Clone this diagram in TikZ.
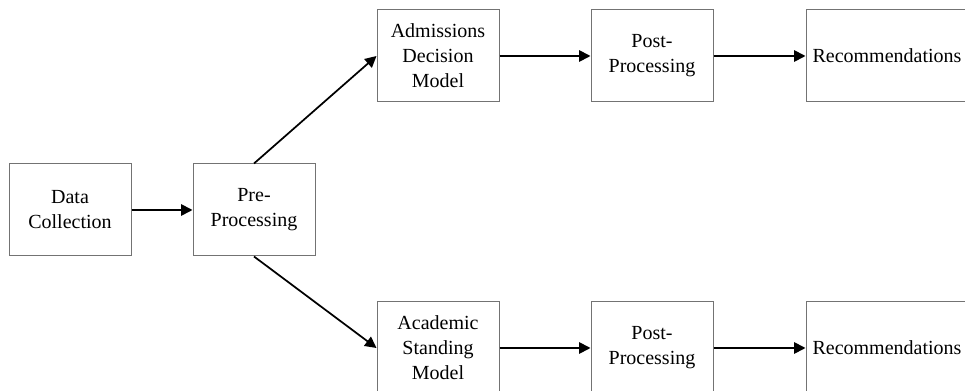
\documentclass[tikz,border=0pt]{standalone}
\usepackage{fontspec}
\setmainfont{Liberation Serif}
\usetikzlibrary{arrows.meta}
\tikzset{blk/.style={draw=black!55,line width=.75pt,minimum width=91.5pt,minimum height=69pt,align=center,inner sep=2pt},
  flow/.style={line width=1.3pt,-{Triangle[length=8.5pt,width=8.5pt]}}}
\begin{document}
\begin{tikzpicture}[x=.75pt,y=-.75pt,font=\fontsize{15}{18.75}\selectfont]
\useasboundingbox (0,0) rectangle (965,391);
\clip (0,0) rectangle (965,391);
\foreach \n/\x/\y/\t in {data/70/210/{Data\\Collection},pre/254/210/{Pre-\\Processing},adm/438/56/{Admissions\\Decision\\Model},post1/652/56/{Post-\\Processing},acad/438/348/{Academic\\Standing\\Model},post2/652/348/{Post-\\Processing}}{\node[blk] (\n) at (\x,\y) {\t};}
\foreach \n/\y in {rec1/56,rec2/348}{\node[blk,minimum width=121.5pt] (\n) at (887,\y) {Recommendations};}
\draw[flow] (data)--(pre);
\draw[flow] (pre.north)--(adm.west);
\draw[flow] (pre.south)--(acad.west);
\draw[flow] (adm)--(post1);
\draw[flow] (post1)--(rec1);
\draw[flow] (acad)--(post2);
\draw[flow] (post2)--(rec2);
\end{tikzpicture}
\end{document}
